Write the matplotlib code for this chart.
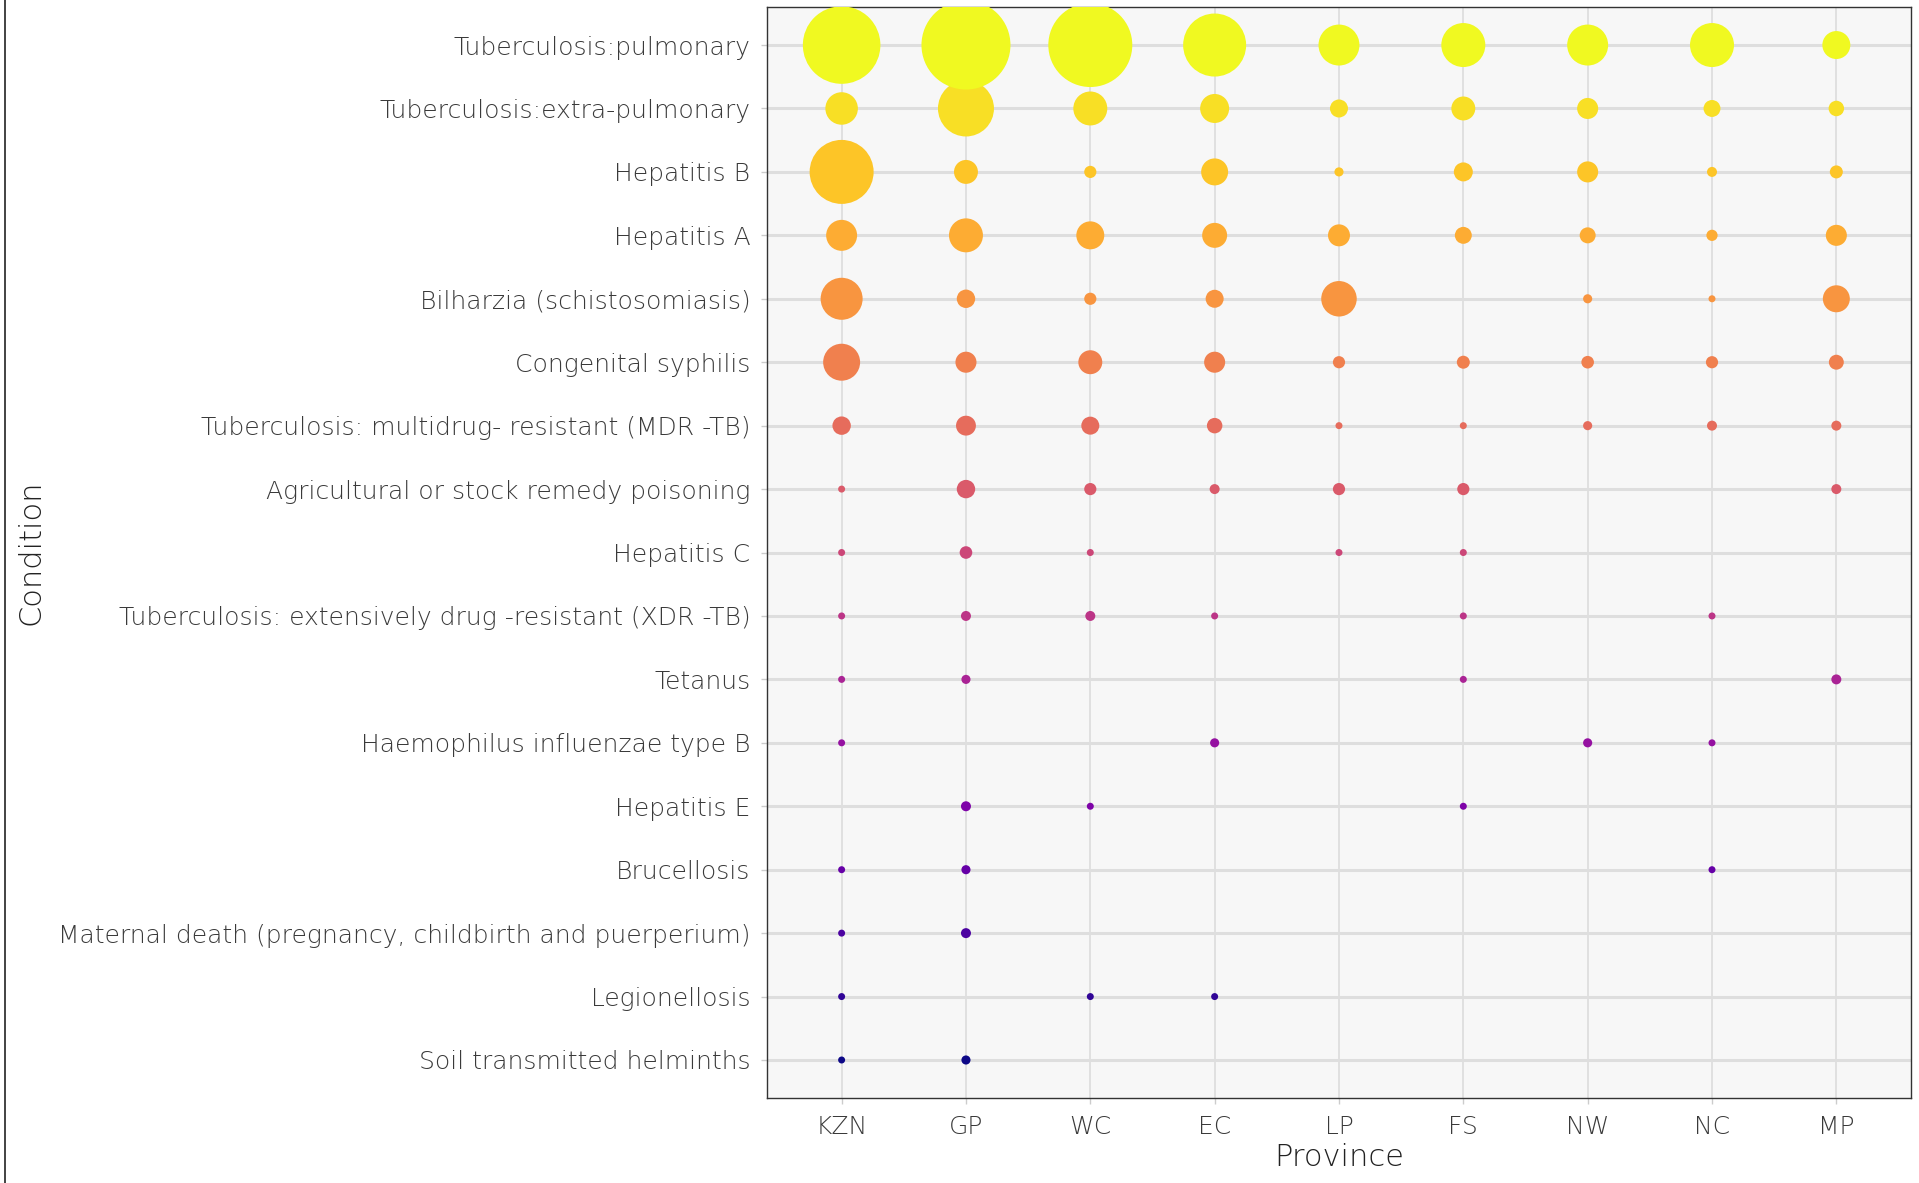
import numpy as np
import matplotlib
matplotlib.use("Agg")
import matplotlib.pyplot as plt
from matplotlib.lines import Line2D

provinces = ["KZN", "GP", "WC", "EC", "LP", "FS", "NW", "NC", "MP"]
conditions = [
    "Tuberculosis:pulmonary",
    "Tuberculosis:extra-pulmonary",
    "Hepatitis B",
    "Hepatitis A",
    "Bilharzia (schistosomiasis)",
    "Congenital syphilis",
    "Tuberculosis: multidrug- resistant (MDR -TB)",
    "Agricultural or stock remedy poisoning",
    "Hepatitis C",
    "Tuberculosis: extensively drug -resistant (XDR -TB)",
    "Tetanus",
    "Haemophilus influenzae type B",
    "Hepatitis E",
    "Brucellosis",
    "Maternal death (pregnancy, childbirth and puerperium)",
    "Legionellosis",
    "Soil transmitted helminths",
]

N = np.nan
# case counts per condition (rows) and province (columns: KZN, GP, WC, EC, LP, FS, NW, NC, MP)
tb_pulmonary      = [1111, 1500, 1322, 700, 258, 306, 258, 306, 99]
tb_extrapulmonary = [146, 536, 163, 109, 28, 65, 45, 23, 17]
hepatitis_b       = [725, 65, 7, 90, 2, 33, 45, 3, 9]
hepatitis_a       = [129, 163, 99, 73, 51, 23, 19, 5, 45]
bilharzia         = [274, 30, 7, 28, 182, N, 2, 1, 90]
congenital_syph   = [201, 45, 65, 45, 7, 9, 8, 7, 15]
tb_mdr            = [30, 38, 28, 17, 1, 1, 2, 3, 3]
agri_poisoning    = [1, 30, 7, 3, 7, 7, N, N, 3]
hepatitis_c       = [1, 8, 1, N, 1, 1, N, N, N]
tb_xdr            = [1, 3, 3, 1, N, 1, N, 1, N]
tetanus           = [1, 2, N, N, N, 1, N, N, 3]
haemophilus       = [1, N, N, 2, N, N, 2, 1, N]
hepatitis_e       = [N, 3, 1, N, N, 1, N, N, N]
brucellosis       = [1, 2, N, N, N, N, N, 1, N]
maternal_death    = [1, 3, N, N, N, N, N, N, N]
legionellosis     = [1, N, 1, 1, N, N, N, N, N]
soil_helminths    = [1, 2, N, N, N, N, N, N, N]

rows = [tb_pulmonary, tb_extrapulmonary, hepatitis_b, hepatitis_a, bilharzia,
        congenital_syph, tb_mdr, agri_poisoning, hepatitis_c, tb_xdr, tetanus,
        haemophilus, hepatitis_e, brucellosis, maternal_death, legionellosis,
        soil_helminths]

FONT = ["DejaVu Sans"]
plt.rcParams["font.family"] = FONT

DPI = 100
fig = plt.figure(figsize=(19.19, 11.83), dpi=DPI)
ax = fig.add_axes([0.3997, 0.0718, 0.5961, 0.9223])
ax.set_facecolor("#f7f7f7")

ncond = len(conditions)
cmap = plt.get_cmap("plasma")
vals = np.array(rows, dtype=float)
vmin, vmax = np.nanmin(vals), np.nanmax(vals)
dmin_px, dmax_px = 7.0, 89.0

# draw from bottom row to top so that top bubbles are in front
for i in range(ncond - 1, -1, -1):
    v = np.array(rows[i], dtype=float)
    mask = ~np.isnan(v)
    xs = np.arange(len(provinces))[mask]
    ys = np.full(xs.shape, ncond - 1 - i)
    d_px = dmin_px + (dmax_px - dmin_px) * np.sqrt((v[mask] - vmin) / (vmax - vmin))
    s = (d_px * 72.0 / DPI) ** 2
    color = cmap((ncond - 1 - i) / (ncond - 1))
    ax.scatter(xs, ys, s=s, color=color, linewidths=0, zorder=3)

ax.set_xlim(-0.6, len(provinces) - 1 + 0.6)
ax.set_ylim(-0.6, ncond - 1 + 0.6)
ax.set_xticks(range(len(provinces)))
ax.set_xticklabels(provinces)
ax.set_yticks(range(ncond))
ax.set_yticklabels(conditions[::-1])

ax.grid(False)
for k in range(ncond):
    ax.axhline(k, color="#dedede", lw=2.2, zorder=1)
for k in range(len(provinces)):
    ax.axvline(k, color="#dedede", lw=1.3, zorder=1)

for sp in ax.spines.values():
    sp.set_color("#333333")
    sp.set_linewidth(1.0)

ax.tick_params(axis="both", length=4, width=1, color="#cccccc",
               labelcolor="#3a3a3a", labelsize=18)
ax.tick_params(axis="y", pad=8)
ax.tick_params(axis="x", pad=8)

for lab in ax.get_xticklabels() + ax.get_yticklabels():
    lab.set_fontweight("light")

ax.set_xlabel("Province", fontsize=22, color="#222222", labelpad=3,
              fontweight="light")
fig.text(31 / 1919, 1 - 552 / 1183, "Condition", rotation=90, fontsize=22,
         color="#222222", ha="center", va="center", fontweight="light")

fig.add_artist(Line2D([5 / 1919, 5 / 1919], [0, 1], transform=fig.transFigure,
                      color="#222222", lw=1.2))

fig.savefig("out.png", dpi=DPI, facecolor="white")
